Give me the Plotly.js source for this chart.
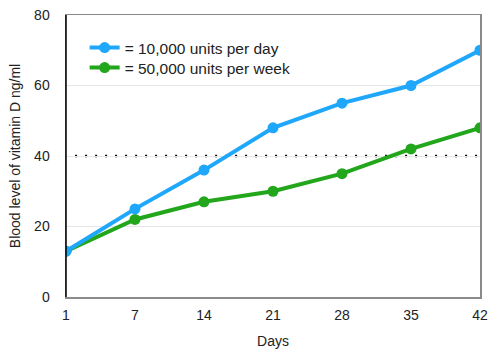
<!DOCTYPE html>
<html>
<head>
<meta charset="utf-8">
<script src="https://cdn.plot.ly/plotly-3.0.1.min.js"></script>
<style>html,body{margin:0;padding:0;background:#fff;}#chart{width:498px;height:353px;}</style>
</head>
<body>
<div id="chart"></div>
<script>
const days = ["1", "7", "14", "21", "28", "35", "42"];
const dailyDose = [13, 25, 36, 48, 55, 60, 70];
const weeklyDose = [13, 22, 27, 30, 35, 42, 48];
const threshold = 40;
const yTicks = [0, 20, 40, 60, 80];

const font = {family: "Liberation Sans, Arial, sans-serif", size: 14, color: "#222"};
const legendFont = {family: "Liberation Sans, Arial, sans-serif", size: 15.5, color: "#222"};

const traces = [
  {x: days, y: dailyDose, name: "= 10,000 units per day", type: "scatter", mode: "lines+markers",
   line: {color: "#1ea7fb", width: 4}, marker: {color: "#1ea7fb", size: 11}, legend: "legend"},
  {x: days, y: weeklyDose, name: "= 50,000 units per week", type: "scatter", mode: "lines+markers",
   line: {color: "#22a61c", width: 4}, marker: {color: "#22a61c", size: 11}, legend: "legend2"}
];
// draw blue on top
traces.reverse();

const legBase = {xanchor: "left", yanchor: "middle", bgcolor: "rgba(0,0,0,0)", font: legendFont,
  itemwidth: 30, borderwidth: 0};

const layout = {
  width: 498, height: 353,
  margin: {l: 66, r: 18, t: 15, b: 56},
  paper_bgcolor: "#fff", plot_bgcolor: "#fff",
  font: font,
  showlegend: true,
  legend: Object.assign({x: 0.045, y: (297 - 48) / 282}, legBase),
  legend2: Object.assign({x: 0.045, y: (297 - 68) / 282}, legBase),
  xaxis: {type: "category", range: [0, 6], showgrid: false, zeroline: false,
    showline: true, linecolor: "#8a8a8a", linewidth: 1.5, mirror: true,
    ticks: "outside", ticklen: 5, tickcolor: "rgba(0,0,0,0)",
    title: {text: "Days", font: font, standoff: 14}, fixedrange: true},
  yaxis: {range: [0, 80], tickvals: yTicks, showgrid: true, gridcolor: "#e6e6e6", gridwidth: 1,
    zeroline: false, showline: true, linecolor: "#8a8a8a", linewidth: 1.5, mirror: true,
    ticks: "outside", ticklen: 12, tickcolor: "rgba(0,0,0,0)",
    title: {text: "Blood level of vitamin D ng/ml", font: font, standoff: 10}, fixedrange: true},
  shapes: [
    {type: "line", xref: "paper", yref: "y", x0: 0.022, x1: 1, y0: threshold, y1: threshold,
     line: {color: "#000", width: 2.5, dash: "2px,8px"}, layer: "below"},
    {type: "line", xref: "paper", yref: "paper", x0: 0, x1: 0, y0: 0, y1: 1,
     line: {color: "#000", width: 1.5}, layer: "above"}
  ]
};

Plotly.newPlot("chart", traces, layout, {displayModeBar: false, staticPlot: true});
</script>
</body>
</html>
